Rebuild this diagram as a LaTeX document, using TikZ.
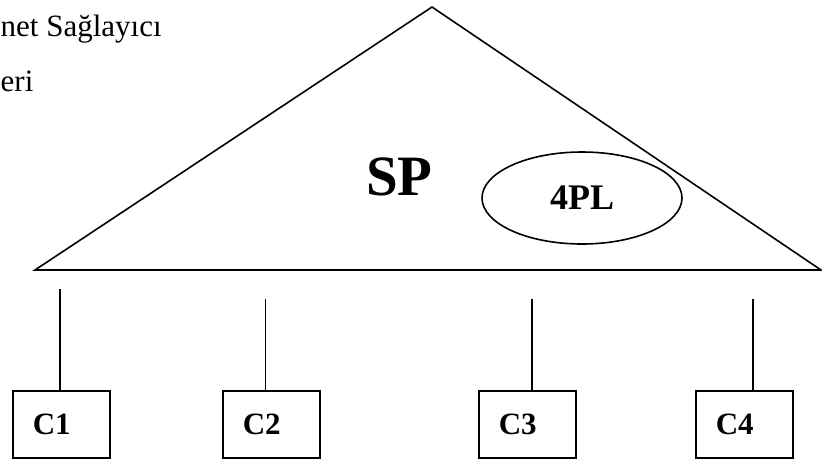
\documentclass[tikz,border=0pt]{standalone}
\usepackage{fontspec}
\setmainfont{Liberation Serif}
\usetikzlibrary{shapes.geometric}

\tikzset{
  outline/.style={line width=1.6pt, black},
  cbox/.style={draw, line width=1.6pt, anchor=north west,
    minimum width=97pt, minimum height=67pt, text width=57pt,
    inner xsep=20pt, inner ysep=0pt, align=left,
    font=\fontsize{31}{31}\selectfont\bfseries},
  link/.style={line width=1.6pt},
  plain/.style={inner sep=0pt, anchor=base west,
    font=\fontsize{31}{31}\selectfont}
}

\begin{document}
\begin{tikzpicture}[x=1pt, y=-1pt]
  \useasboundingbox (0,0) rectangle (822,459);

  % caption lines in the upper left corner
  \node[plain] (cap1) at (0.5,36) {net Sağlayıcı};
  \node[plain] (cap2) at (0.5,91) {eri};

  % service provider triangle
  \coordinate (apex) at (432,7);
  \coordinate (bl) at (35,270);
  \coordinate (br) at (821,270);
  \draw[outline, line join=miter] (apex) -- (bl) -- (br) -- cycle;

  \node[inner sep=0pt, anchor=base west,
        font=\fontsize{57}{57}\selectfont\bfseries] (sp) at (366,195) {SP};

  \node[ellipse, draw, line width=1.6pt, minimum width=200pt,
        minimum height=92pt, inner sep=0pt,
        font=\fontsize{36}{36}\selectfont\bfseries] (fourpl) at (582,198) {4PL};

  % client boxes
  \node[cbox] (c1) at (12,390) {C1};
  \node[cbox] (c2) at (222,390) {C2};
  \node[cbox] (c3) at (478,390) {C3};
  \node[cbox] (c4) at (695,390) {C4};

  % free upper ends of the vertical links
  \coordinate (t1) at (60,289);
  \coordinate (t2) at (265.5,299);
  \coordinate (t3) at (532,299);
  \coordinate (t4) at (753,299);

  \draw[link] (t1) -- (t1 |- c1.north);
  \draw[link] (t2) -- (t2 |- c2.north);
  \draw[link] (t3) -- (t3 |- c3.north);
  \draw[link] (t4) -- (t4 |- c4.north);
\end{tikzpicture}
\end{document}
